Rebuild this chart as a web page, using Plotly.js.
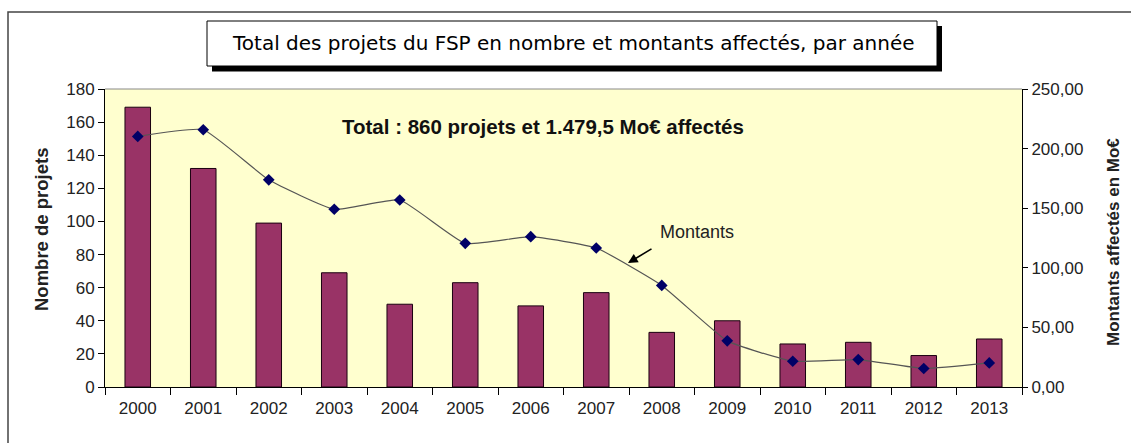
<!DOCTYPE html>
<html>
<head>
<meta charset="utf-8">
<script src="https://cdn.plot.ly/plotly-3.0.1.min.js"></script>
<style>html,body{margin:0;padding:0;background:#fff;}#chart{width:1131px;height:443px;}</style>
</head>
<body>
<div id="chart"></div>
<script>
const years = ["2000","2001","2002","2003","2004","2005","2006","2007","2008","2009","2010","2011","2012","2013"];
const nombreProjets = [169,132,99,69,50,63,49,57,33,40,26,27,19,29];
const montants = [210.2,215.8,173.8,149.1,156.9,120.5,126.1,116.6,85.2,38.7,21.6,23.0,15.5,20.2];
const leftTicks = [0,20,40,60,80,100,120,140,160,180];
const rightTicks = [0,50,100,150,200,250];
const rightTickLabels = ["0,00","50,00","100,00","150,00","200,00","250,00"];

const W = 1131, H = 443;
const L = 105, R = 1022, T = 89, B = 387;
const px = v => (v - L) / (R - L);
const py = v => (B - v) / (B - T);

const traces = [
  {
    type: 'bar', x: years, y: nombreProjets, name: 'Nombre',
    marker: {color: '#993366', line: {color: '#1a0010', width: 1}},
    yaxis: 'y'
  },
  {
    type: 'scatter', mode: 'lines+markers', x: years, y: montants, name: 'Montants',
    line: {color: '#555', width: 1.2, shape: 'spline', smoothing: 0.4},
    marker: {symbol: 'diamond', size: 9, color: '#000066'},
    yaxis: 'y2'
  }
];

const tickFont = {family: 'Liberation Sans, Arial, sans-serif', size: 17, color: '#222'};

const layout = {
  width: W, height: H,
  margin: {l: L, r: W - R, t: T, b: H - B, pad: 0},
  paper_bgcolor: '#fff',
  plot_bgcolor: '#FFFFCF',
  showlegend: false,
  bargap: 0.61,
  xaxis: {
    type: 'category', range: [-0.5, years.length - 0.5], autorange: false,
    tickson: 'boundaries', ticks: 'outside', ticklen: 7, ticklabelstandoff: 6,
    tickcolor: '#000', showline: true, linecolor: '#000', linewidth: 1,
    showgrid: false, zeroline: false, tickfont: tickFont, fixedrange: true
  },
  yaxis: {
    range: [0, 180], tickvals: leftTicks, ticks: 'outside', ticklen: 6,
    tickcolor: '#000', showline: true, linecolor: '#000', linewidth: 1,
    showgrid: false, zeroline: false, tickfont: tickFont, fixedrange: true
  },
  yaxis2: {
    overlaying: 'y', side: 'right', range: [0, 250], tickvals: rightTicks,
    ticktext: rightTickLabels, ticks: 'outside', ticklen: 5, tickcolor: '#000',
    showline: true, linecolor: '#000', linewidth: 1, showgrid: false,
    zeroline: false, tickfont: tickFont, fixedrange: true
  },
  yaxis3: {
    overlaying: 'y', side: 'right', range: [0, 250], tickvals: rightTicks,
    showticklabels: false, ticks: 'inside', ticklen: 5, tickcolor: '#000',
    showline: false, showgrid: false, zeroline: false, fixedrange: true
  },
  shapes: [
    {type: 'rect', xref: 'paper', yref: 'paper', x0: px(8), x1: px(1140), y0: py(12), y1: py(460),
     line: {color: '#444', width: 1.5}, fillcolor: 'rgba(0,0,0,0)', layer: 'below'},
    {type: 'line', xref: 'paper', yref: 'paper', x0: 0, x1: 1, y0: 1, y1: 1,
     line: {color: '#888', width: 1}},
    {type: 'rect', xref: 'paper', yref: 'paper', x0: px(212), x1: px(942), y0: py(26), y1: py(71.5),
     line: {width: 0}, fillcolor: '#000'},
    {type: 'rect', xref: 'paper', yref: 'paper', x0: px(207), x1: px(937), y0: py(21), y1: py(66),
     line: {color: '#000', width: 1}, fillcolor: '#fff'}
  ],
  annotations: [
    {xref: 'paper', yref: 'paper', x: px(573), y: py(43.5), showarrow: false,
     text: 'Total des projets du FSP en nombre et montants affectés, par année',
     font: {family: 'DejaVu Sans, Verdana, sans-serif', size: 20, color: '#000'},
     xanchor: 'center', yanchor: 'middle'},
    {xref: 'paper', yref: 'paper', x: px(543), y: py(126), showarrow: false,
     text: '<b>Total : 860 projets et 1.479,5 Mo€ affectés</b>',
     font: {family: 'Liberation Sans, Arial, sans-serif', size: 20.5, color: '#111'},
     xanchor: 'center', yanchor: 'middle'},
    {xref: 'paper', yref: 'paper', x: px(697), y: py(232), showarrow: false,
     text: 'Montants',
     font: {family: 'Liberation Sans, Arial, sans-serif', size: 18, color: '#222'},
     xanchor: 'center', yanchor: 'middle'},
    {xref: 'paper', yref: 'paper', x: px(628), y: py(263), showarrow: true,
     text: ' ', font: {size: 1}, ax: 25, ay: -15, arrowhead: 2, arrowsize: 1.2, arrowwidth: 1.6,
     arrowcolor: '#000', standoff: 0},
    {xref: 'paper', yref: 'paper', x: px(41), y: py(230), showarrow: false,
     text: '<b>Nombre de projets</b>', textangle: -90,
     font: {family: 'Liberation Sans, Arial, sans-serif', size: 18.5, color: '#222'},
     xanchor: 'center', yanchor: 'middle'},
    {xref: 'paper', yref: 'paper', x: px(1113), y: py(242), showarrow: false,
     text: '<b>Montants affectés en Mo€</b>', textangle: -90,
     font: {family: 'Liberation Sans, Arial, sans-serif', size: 17, color: '#222'},
     xanchor: 'center', yanchor: 'middle'}
  ]
};

Plotly.newPlot('chart', traces, layout, {displayModeBar: false, staticPlot: true});
</script>
</body>
</html>
